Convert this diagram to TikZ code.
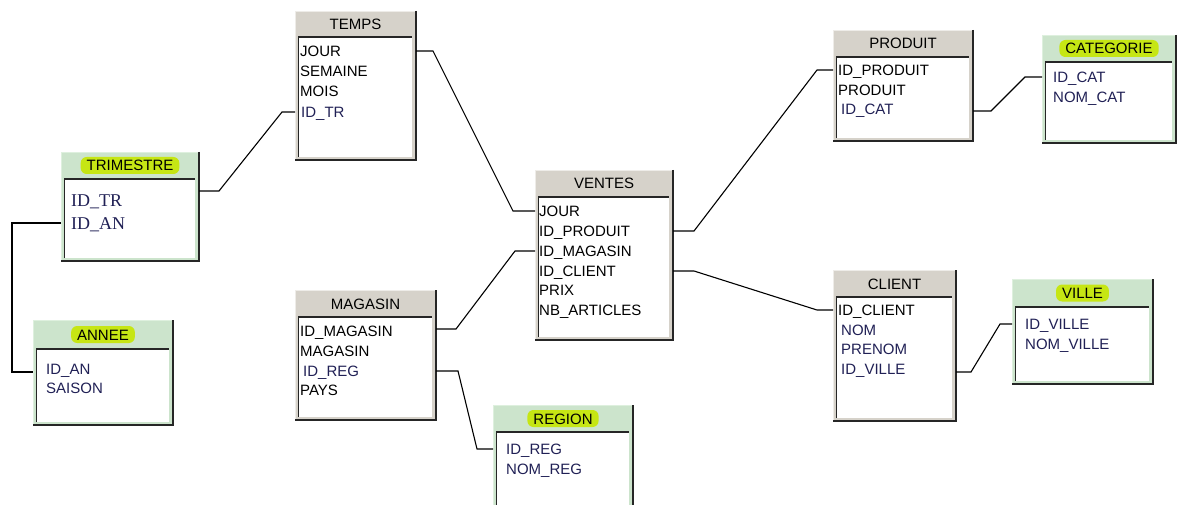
\documentclass[tikz,border=0pt]{standalone}
\usepackage{fontspec}
\setmainfont{Liberation Sans}
\newfontfamily\trimfont{Liberation Serif}
\usetikzlibrary{calc}
\definecolor{bandgray}{RGB}{214,210,202}
\definecolor{bandgreen}{RGB}{204,228,204}
\definecolor{hlgreen}{RGB}{198,230,20}
\definecolor{fkblue}{RGB}{32,32,85}
\definecolor{edgegray}{RGB}{238,236,232}
\definecolor{edgegreen}{RGB}{222,240,222}
\tikzset{
  graytbl/.style={fill=bandgray, draw=edgegray, line width=1pt},
  greentbl/.style={fill=bandgreen, draw=edgegreen, line width=1pt},
  hl/.style={fill=hlgreen, rounded corners=6pt, inner xsep=6pt, inner ysep=3pt},
  nohl/.style={inner sep=0pt},
  titlef/.style={font=\fontsize{15}{15}\selectfont, text height=11pt, text depth=0pt},
  row/.style={anchor=west, inner sep=0pt, font=\fontsize{15}{15}\selectfont, text height=11pt, text depth=0pt},
  fk/.style={text=fkblue},
  serifrow/.style={anchor=west, inner sep=0pt, font=\trimfont\fontsize{18}{18}\selectfont, text height=12pt, text depth=0pt, text=fkblue},
  conn/.style={line width=1.1pt, black},
}
% name, x, y, w, h, band, style, title, title style
\newcommand\dbtable[9]{%
  \node[#7, minimum width=#4, minimum height=#5, anchor=north west, inner sep=0pt] (#1) at (#2,#3) {};
  \draw[line width=1.6pt, black!85] (#1.north east) -- (#1.south east) -- (#1.south west);
  \coordinate (#1-a) at ($(#1.north west)+(3.5,#6)$);
  \coordinate (#1-b) at ($(#1.south east)+(-4,-3)$);
  \fill[white] (#1-a) rectangle (#1-b);
  \draw[line width=1.6pt, black!85] (#1-a |- #1-b) -- (#1-a) -- (#1-b |- #1-a);
  \path (#1.north) ++(0,#6/2) node[titlef, #9] (#1-t) {#8};
}
\begin{document}
\begin{tikzpicture}[x=1pt, y=-1pt]
\useasboundingbox (0,0) rectangle (1177,505);
\fill[white] (0,0) rectangle (1177,505);
\clip (0,0) rectangle (1177,505);

\dbtable{temps}{295}{11}{120}{148}{26}{graytbl}{TEMPS}{nohl}
\dbtable{trim}{61}{152}{137}{108}{27}{greentbl}{TRIMESTRE}{hl}
\dbtable{annee}{33}{320}{139}{104}{29}{greentbl}{ANNEE}{hl}
\dbtable{ventes}{535}{170}{137}{169}{27}{graytbl}{VENTES}{nohl}
\dbtable{mag}{295}{290}{140}{129}{27}{graytbl}{MAGASIN}{nohl}
\dbtable{region}{493}{405}{139}{115}{27}{greentbl}{REGION}{hl}
\dbtable{produit}{833}{30}{139}{110}{27}{graytbl}{PRODUIT}{nohl}
\dbtable{categ}{1042}{35}{133}{107}{27}{greentbl}{CATEGORIE}{hl}
\dbtable{client}{833}{270}{122}{150}{27}{graytbl}{CLIENT}{nohl}
\dbtable{ville}{1012}{279}{140}{104}{28}{greentbl}{VILLE}{hl}

% rows
\node[row] (temps-r1) at (300,51) {JOUR};
\node[row] (temps-r2) at (300,71) {SEMAINE};
\node[row] (temps-r3) at (300,91) {MOIS};
\node[row, fk] (temps-r4) at (301,112) {ID\_TR};

\node[serifrow] (trim-r1) at (71,200) {ID\_TR};
\node[serifrow] (trim-r2) at (71,223) {ID\_AN};

\node[row, fk] (annee-r1) at (46,369) {ID\_AN};
\node[row, fk] (annee-r2) at (46,388) {SAISON};

\node[row] (ventes-r1) at (539,211) {JOUR};
\node[row] (ventes-r2) at (539,231) {ID\_PRODUIT};
\node[row] (ventes-r3) at (539,251) {ID\_MAGASIN};
\node[row] (ventes-r4) at (539,271) {ID\_CLIENT};
\node[row] (ventes-r5) at (539,290) {PRIX};
\node[row] (ventes-r6) at (539,310) {NB\_ARTICLES};

\node[row] (mag-r1) at (300,331) {ID\_MAGASIN};
\node[row] (mag-r2) at (300,351) {MAGASIN};
\node[row, fk] (mag-r3) at (303,371) {ID\_REG};
\node[row] (mag-r4) at (300,390) {PAYS};

\node[row, fk] (region-r1) at (506,449) {ID\_REG};
\node[row, fk] (region-r2) at (506,469) {NOM\_REG};

\node[row] (produit-r1) at (838,70) {ID\_PRODUIT};
\node[row] (produit-r2) at (838,90) {PRODUIT};
\node[row, fk] (produit-r3) at (841,109) {ID\_CAT};

\node[row, fk] (categ-r1) at (1053,77) {ID\_CAT};
\node[row, fk] (categ-r2) at (1053,97) {NOM\_CAT};

\node[row] (client-r1) at (838,310) {ID\_CLIENT};
\node[row, fk] (client-r2) at (841,330) {NOM};
\node[row, fk] (client-r3) at (841,349) {PRENOM};
\node[row, fk] (client-r4) at (841,369) {ID\_VILLE};

\node[row, fk] (ville-r1) at (1025,324) {ID\_VILLE};
\node[row, fk] (ville-r2) at (1025,344) {NOM\_VILLE};

% connectors
\draw[conn] ($(trim.east |- trim-r1)+(0,-9)$) -- ++(20,0) -- ($(temps.west |- temps-r4)+(-13,0)$) -- (temps.west |- temps-r4);
\draw[conn] (temps.east |- temps-r1) -- ++(17,0) -- ($(ventes.west |- ventes-r1)+(-22,0)$) -- (ventes.west |- ventes-r1);
\draw[conn] (trim.west |- trim-r2) -- ++(-49,0) |- ($(annee.west |- annee-r1)+(0,3)$);
\draw[conn] (ventes.west |- ventes-r3) -- ++(-20,0) -- ($(mag.east |- mag-r1)+(20,-2)$) -- ($(mag.east |- mag-r1)+(0,-2)$);
\draw[conn] (mag.east |- mag-r3) -- ++(22,0) -- ($(region.west |- region-r1)+(-16,0)$) -- (region.west |- region-r1);
\draw[conn] (ventes.east |- ventes-r2) -- ++(21,0) -- ($(produit.west |- produit-r1)+(-16,0)$) -- (produit.west |- produit-r1);
\draw[conn] (ventes.east |- ventes-r4) -- ++(21,0) -- ($(client.west |- client-r1)+(-16,0)$) -- (client.west |- client-r1);
\draw[conn] ($(produit.east |- produit-r3)+(0,2)$) -- ++(18,0) -- ($(categ.west |- categ-r1)+(-17,0)$) -- (categ.west |- categ-r1);
\draw[conn] ($(client.east |- client-r4)+(0,3)$) -- ++(15,0) -- ($(ville.west |- ville-r1)+(-12,0)$) -- (ville.west |- ville-r1);
\end{tikzpicture}
\end{document}
